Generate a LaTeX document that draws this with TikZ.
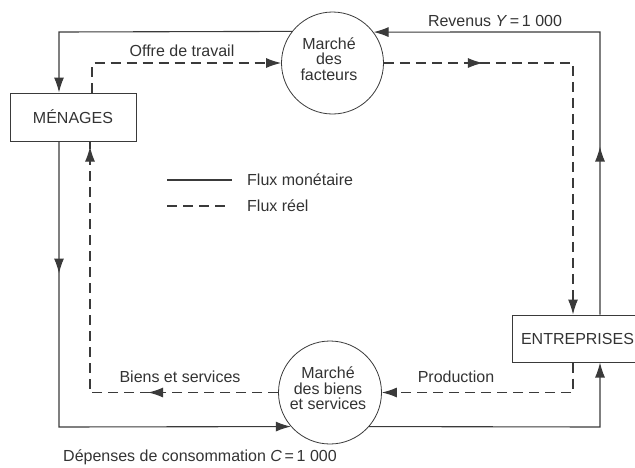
\documentclass[tikz,border=0pt]{standalone}
\usepackage{fontspec}
\setmainfont{Liberation Sans}
\usetikzlibrary{arrows.meta,decorations.markings}
\definecolor{ln}{HTML}{3A3A3A}
\definecolor{txt}{HTML}{333333}
\begin{document}
\begin{tikzpicture}[x=1pt,y=-1pt,
  every node/.style={font=\fontsize{16}{15.5}\selectfont, text=txt, inner sep=0pt},
  box/.style={draw=ln, line width=1pt, rectangle},
  mkt/.style={draw=ln, line width=0.8pt, circle},
  money/.style={draw=ln, line width=1.1pt},
  real/.style={draw=ln, line width=1.1pt, dash pattern=on 10pt off 6pt},
  tip/.style={-{Latex[length=15pt,width=10pt]}},
  midtip/.style={postaction={decorate,decoration={markings,mark=at position #1 with {\arrow{Latex[length=15pt,width=10pt]}}}}},
]
\useasboundingbox (0,0) rectangle (635,467);

% main nodes
\node[box, minimum width=126pt, minimum height=48pt] (men) at (73,117) {MÉNAGES};
\node[box, minimum width=130pt, minimum height=47pt, anchor=west] (ent) at (512,338.5) {ENTREPRISES};
\node[mkt, minimum size=102pt] (fac) at (332.5,63) {};
\node[align=center] (facT) at (329,59) {Marché\\des\\facteurs};
\node[mkt, minimum size=103pt] (bie) at (330,392.5) {};
\node[align=center] (bieT) at (328,388.5) {Marché\\des biens\\et services};

% corners
\coordinate (c1) at (59,32);
\coordinate (c2) at (92,63);
\coordinate (c3) at (573,63);
\coordinate (c4) at (600,32);
\coordinate (c5) at (573,392.5);
\coordinate (c6) at (600,427);
\coordinate (c7) at (90,392.5);
\coordinate (c8) at (59,427);

% flows
\draw[money, tip] (fac.142.6) -- (c1) -- (c1 |- men.north);
\draw[real, tip] (c2 |- men.north) -- (c2) -- (fac.west);
\draw[real, tip, midtip=99pt] (fac.east) -- (c3) -- (c3 |- ent.north);
\draw[money, tip, midtip=168pt] (c4 |- ent.north) -- (c4) -- (fac.37.4);
\draw[real, tip] (c5 |- ent.south) -- (c5) -- (bie.east);
\draw[money, tip] (bie.-41.3) -- (c6) -- (c6 |- ent.south);
\draw[real, midtip=130pt, midtip=434pt] (bie.west) -- (c7) -- (c7 |- men.south);
\draw[money, tip, midtip=132pt] (c8 |- men.south) -- (c8) -- (bie.221.3);

% labels
\node (offre) at (182,51) {Offre de travail};
\node (rev) at (495,21) {Revenus \textit{Y}\,=\,1 000};
\node (bs) at (180,377) {Biens et services};
\node (prod) at (456,377) {Production};
\node (dep) at (200,457) {Dépenses de consommation \textit{C}\,=\,1 000};

% legend
\coordinate (l1a) at (167,180);
\coordinate (l1b) at (232,180);
\coordinate (l2a) at (167,206);
\coordinate (l2b) at (231,206);
\draw[money] (l1a) -- (l1b);
\draw[real] (l2a) -- (l2b);
\node[anchor=west] (lm) at (247,180) {Flux monétaire};
\node[anchor=west] (lr) at (247,206) {Flux réel};
\end{tikzpicture}
\end{document}
